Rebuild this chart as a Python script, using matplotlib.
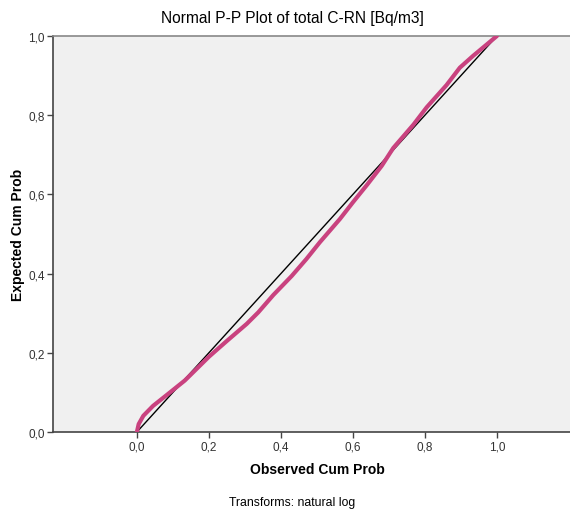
import numpy as np
import matplotlib.pyplot as plt

plt.rcParams['font.family'] = ['Liberation Sans', 'DejaVu Sans']

# P-P points (observed cum prob, expected cum prob)
observed = [0.0, 0.005, 0.018, 0.045, 0.092, 0.133, 0.142, 0.2, 0.25, 0.305, 0.337,
            0.379, 0.43, 0.471, 0.508, 0.564, 0.6, 0.64, 0.68, 0.712, 0.768, 0.805, 0.86,
            0.897, 0.934, 0.971, 1.0]
expected = [0.0, 0.02, 0.041, 0.066, 0.100, 0.130, 0.138, 0.19, 0.23, 0.273, 0.302,
            0.346, 0.394, 0.437, 0.479, 0.538, 0.58, 0.625, 0.672, 0.717, 0.776, 0.82, 0.876,
            0.92, 0.950, 0.978, 1.0]
ticks = [0.0, 0.2, 0.4, 0.6, 0.8, 1.0]
tick_labels = ["0,0", "0,2", "0,4", "0,6", "0,8", "1,0"]

fig = plt.figure(figsize=(5.7, 5.1), dpi=100)
ax = fig.add_axes([53 / 570, 77 / 510, 517 / 570, 396 / 510])
ax.set_facecolor('#f0f0f0')

ax.plot([0, 1], [0, 1], color='black', linewidth=1.0, zorder=2)
ax.plot(observed, expected, color='#c9427f', linewidth=3.0, solid_capstyle='round',
        solid_joinstyle='round', zorder=3)

ax.set_xlim(-0.233, 1.203)
ax.set_ylim(0, 1)
ax.set_xticks(ticks)
ax.set_xticklabels(tick_labels)
ax.set_yticks(ticks)
ax.set_yticklabels(tick_labels)
ax.tick_params(direction='out', length=4, width=1, color='#444444', labelsize=8.5, labelcolor='#333333', pad=2)

for side in ['left', 'bottom']:
    ax.spines[side].set_color('#444444')
    ax.spines[side].set_linewidth(1.2)
ax.spines['top'].set_color('#888888')
ax.spines['top'].set_linewidth(1.2)
ax.spines['right'].set_visible(False)

fig.text(292 / 570, 1 - 18 / 510, "Normal P-P Plot of total C-RN [Bq/m3]", ha='center', va='center', fontsize=11.2)
fig.text(317 / 570, 1 - 470 / 510, "Observed Cum Prob", ha='center', va='center', fontsize=10, fontweight='bold')
fig.text(18 / 570, 1 - 235 / 510, "Expected Cum Prob", ha='center', va='center', rotation=90, fontsize=10, fontweight='bold')
fig.text(292 / 570, 1 - 503 / 510, "Transforms: natural log", ha='center', va='center', fontsize=8.8)

fig.savefig('out.png', dpi=100)
